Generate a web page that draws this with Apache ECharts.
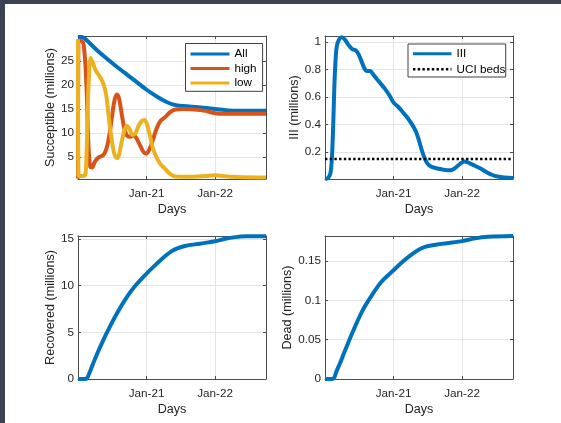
<!DOCTYPE html>
<html><head><meta charset="utf-8">
<script src="https://cdn.jsdelivr.net/npm/echarts@6/dist/echarts.min.js"></script>
<style>
html,body{margin:0;padding:0;background:#fff;}
#c{position:absolute;left:0;top:0;width:561px;height:423px;}
.band{position:absolute;background:#3b4252;}
</style></head>
<body>
<div id="c"></div>
<div class="band" style="left:0;top:0;width:561px;height:4px"></div>
<div class="band" style="left:0;top:0;width:5px;height:423px"></div>
<script>
// x is days since 1 Jan 2020
const tickDays = [366, 731];
const tickLabels = ['Jan-21', 'Jan-22'];
const xMax = 1003;

const allDays = [0, 20, 35, 60, 100, 150, 200, 250, 300, 366, 420, 470, 510, 560, 640, 731, 800, 880, 1003];
const allVals = [30.0, 30.0, 29.7, 28.8, 27.3, 25.6, 24.0, 22.5, 21.0, 19.0, 17.6, 16.5, 15.9, 15.6, 15.35, 15.0, 14.7, 14.6, 14.6];

const highDays = [0, 2, 15, 30, 45, 55, 65, 75, 90, 110, 135, 150, 165, 180, 195, 208, 220, 235, 250, 265, 280, 295, 310, 330, 350, 365, 380, 400, 420, 440, 465, 490, 520, 560, 620, 680, 731, 780, 880, 1003];
const highVals = [0.5, 29.2, 29.2, 28.5, 20, 8, 3.0, 2.8, 4.0, 4.9, 5.4, 6.5, 9, 13, 16.8, 18.0, 17.0, 13.5, 10.5, 9.3, 9.2, 9.5, 9.0, 7.5, 6.0, 5.7, 6.5, 8.6, 11, 12.5, 13.3, 14.3, 14.9, 15.0, 14.9, 14.6, 14.1, 14.0, 14.0, 14.0];

const lowDays = [0, 2, 20, 38, 45, 52, 60, 68, 80, 95, 115, 135, 150, 165, 180, 195, 210, 222, 235, 250, 262, 275, 290, 305, 320, 340, 355, 370, 385, 400, 420, 440, 465, 490, 520, 560, 640, 700, 735, 780, 850, 1003];
const lowVals = [29.5, 1.0, 1.0, 1.2, 5, 15, 23, 25.6, 24.5, 23.0, 21.8, 20.3, 18, 13, 8.5, 5.5, 4.7, 6, 8.5, 10.8, 11.5, 10.8, 9.6, 9.8, 11.2, 12.5, 12.7, 11.5, 9.2, 6.8, 4.8, 3.5, 2.5, 1.5, 0.9, 0.85, 0.9, 1.1, 1.2, 0.95, 0.8, 0.7];

const illDays = [0, 15, 28, 35, 40, 45, 50, 56, 63, 75, 90, 105, 125, 145, 165, 180, 195, 210, 222, 240, 260, 290, 320, 345, 366, 390, 415, 440, 465, 485, 500, 515, 530, 545, 565, 600, 640, 670, 700, 725, 745, 770, 800, 830, 860, 890, 920, 960, 1003];
const illVals = [0.005, 0.01, 0.04, 0.12, 0.25, 0.45, 0.68, 0.86, 0.97, 1.02, 1.035, 1.02, 0.98, 0.95, 0.94, 0.91, 0.86, 0.81, 0.79, 0.79, 0.76, 0.71, 0.66, 0.61, 0.56, 0.53, 0.49, 0.45, 0.40, 0.35, 0.29, 0.22, 0.16, 0.12, 0.095, 0.08, 0.07, 0.068, 0.09, 0.12, 0.132, 0.12, 0.1, 0.08, 0.055, 0.035, 0.022, 0.015, 0.012];

const uciBeds = 0.15;

const recDays = [0, 40, 50, 60, 80, 100, 130, 160, 200, 250, 300, 366, 420, 470, 500, 530, 570, 650, 731, 780, 840, 900, 1003];
const recVals = [0, 0, 0.15, 0.6, 1.6, 2.6, 3.95, 5.2, 6.75, 8.45, 9.85, 11.3, 12.35, 13.25, 13.7, 14.0, 14.25, 14.5, 14.75, 15.0, 15.2, 15.28, 15.3];

const deadDays = [0, 40, 50, 60, 80, 100, 150, 200, 250, 300, 366, 420, 470, 510, 550, 620, 731, 800, 870, 1003];
const deadVals = [0, 0, 0.002, 0.009, 0.02, 0.032, 0.061, 0.087, 0.1065, 0.1235, 0.1385, 0.1505, 0.160, 0.1658, 0.1692, 0.172, 0.1755, 0.179, 0.181, 0.182];

const yTicks1 = [5, 10, 15, 20, 25];
const yTicks2 = [0.2, 0.4, 0.6, 0.8, 1];
const yTicks3 = [0, 5, 10, 15];
const yTicks4 = [0, 0.05, 0.1, 0.15];

const zip = (a, b) => a.map((d, i) => [d, b[i]]);

const FONT = 'Liberation Sans, Arial, Helvetica, sans-serif';
const TXT = '#262626';
const AX = '#4d4d4d';
const GRIDC = '#e4e4e4';
const C_BLUE = '#0072BD', C_RED = '#D95319', C_YEL = '#EDB120';

const grids = [
  {left: 78, top: 36, width: 188, height: 143},
  {left: 325, top: 36, width: 188, height: 143},
  {left: 78, top: 236, width: 188, height: 143},
  {left: 325, top: 236, width: 188, height: 143}
];

function xPair(gi) {
  const line = {show: true, onZero: false, lineStyle: {color: AX, width: 1}};
  const tick = {show: true, inside: true, length: 3, customValues: tickDays, lineStyle: {color: AX, width: 1}};
  return [
    {type: 'value', gridIndex: gi, min: 0, max: xMax, position: 'bottom',
     name: 'Days', nameLocation: 'middle', nameGap: 24,
     nameTextStyle: {fontFamily: FONT, fontSize: 12.6, color: TXT},
     axisLine: line, axisTick: tick,
     axisLabel: {customValues: tickDays, margin: 9, fontFamily: FONT, fontSize: 11.7, color: TXT,
                 formatter: v => tickLabels[tickDays.indexOf(v)] || ''},
     splitLine: {show: true, lineStyle: {color: GRIDC, width: 1}}},
    {type: 'value', gridIndex: gi, min: 0, max: xMax, position: 'top',
     axisLine: line, axisTick: tick, axisLabel: {show: false}, splitLine: {show: false}}
  ];
}
function yPair(gi, min, max, ticks, name) {
  const line = {show: true, onZero: false, lineStyle: {color: AX, width: 1}};
  const tick = {show: true, inside: true, length: 3, customValues: ticks, lineStyle: {color: AX, width: 1}};
  return [
    {type: 'value', gridIndex: gi, min: min, max: max, position: 'left',
     name: name, nameLocation: 'middle', nameGap: 20,
     nameTextStyle: {fontFamily: FONT, fontSize: 12.6, color: TXT},
     axisLine: line, axisTick: tick,
     axisLabel: {customValues: ticks, margin: 4, fontFamily: FONT, fontSize: 11.7, color: TXT,
                 formatter: v => String(v)},
     splitLine: {show: true, lineStyle: {color: GRIDC, width: 1}}},
    {type: 'value', gridIndex: gi, min: min, max: max, position: 'right',
     axisLine: line, axisTick: tick, axisLabel: {show: false}, splitLine: {show: false}}
  ];
}

const lineSeries = (name, data, color, xi, yi, extra) => Object.assign({
  type: 'line', name: name, data: data, xAxisIndex: xi, yAxisIndex: yi,
  symbol: 'none', smooth: 0.35, lineStyle: {color: color, width: 4}, itemStyle: {color: color},
  emphasis: {disabled: true}, silent: true
}, extra || {});

const legendText = {fontFamily: FONT, fontSize: 11.7, color: '#000'};

const option = {
  animation: false,
  backgroundColor: '#fff',
  grid: grids,
  xAxis: [].concat(xPair(0), xPair(1), xPair(2), xPair(3)),
  yAxis: [].concat(
    yPair(0, 0.4, 30.2, yTicks1, 'Succeptible (millions)'),
    yPair(1, 0.004, 1.045, yTicks2, 'III (millions)'),
    yPair(2, 0, 15.32, yTicks3, 'Recovered (millions)'),
    yPair(3, 0, 0.182, yTicks4, 'Dead (millions)')
  ),
  legend: [
    {data: ['All', 'high', 'low'], orient: 'vertical', left: 185.5, top: 43.5,
     itemWidth: 39, itemHeight: 10, itemGap: 2.5, padding: [4.5, 6, 2.3, 3.5],
     borderColor: '#404040', borderWidth: 1, backgroundColor: '#fff',
     textStyle: legendText, lineStyle: {width: 3}, itemStyle: {opacity: 0}, selectedMode: false},
    {data: [{name: 'III', lineStyle: {width: 3}}, {name: 'UCI beds', lineStyle: {width: 2.4}}],
     orient: 'vertical', left: 408, top: 44,
     itemWidth: 38.5, itemHeight: 10, itemGap: 3.6, padding: [3.7, 0.5, 1.7, 3.5],
     borderColor: '#404040', borderWidth: 1, backgroundColor: '#fff',
     textStyle: legendText, itemStyle: {opacity: 0}, selectedMode: false}
  ],
  series: [
    lineSeries('All', zip(allDays, allVals), C_BLUE, 0, 0),
    lineSeries('high', zip(highDays, highVals), C_RED, 0, 0),
    lineSeries('low', zip(lowDays, lowVals), C_YEL, 0, 0),
    lineSeries('III', zip(illDays, illVals), C_BLUE, 2, 2),
    lineSeries('UCI beds', [[0, uciBeds], [xMax, uciBeds]], '#000', 2, 2,
               {smooth: false, lineStyle: {color: '#000', width: 2.4, type: [2.4, 2.3]}}),
    lineSeries('Recovered', zip(recDays, recVals), C_BLUE, 4, 4),
    lineSeries('Dead', zip(deadDays, deadVals), C_BLUE, 6, 6)
  ]
};

const chart = echarts.init(document.getElementById('c'), null, {renderer: 'canvas'});
chart.setOption(option);
</script>
</body></html>
